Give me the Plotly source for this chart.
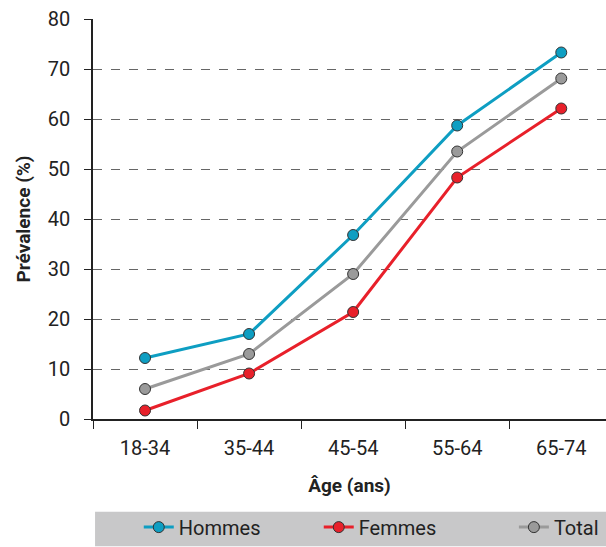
import plotly.graph_objects as go

ages = ["18-34", "35-44", "45-54", "55-64", "65-74"]
hommes = [12.2, 17.0, 36.8, 58.7, 73.3]
femmes = [1.7, 9.1, 21.4, 48.3, 62.1]
total = [6.0, 13.0, 29.0, 53.5, 68.1]

series = [
    ("Hommes", hommes, "#0e9ec2", "legend", 0.229),
    ("Femmes", femmes, "#e8202a", "legend2", 0.526),
    ("Total", total, "#9a9a9a", "legend3", 0.848),
]

font = "Roboto, Arial, sans-serif"

fig = go.Figure()
for name, vals, col, leg, _ in series:
    fig.add_trace(go.Scatter(
        x=ages, y=vals, name=name, mode="lines+markers", legend=leg,
        line=dict(color=col, width=3),
        marker=dict(size=11, color=col, line=dict(color="#333333", width=1)),
    ))

# grey band behind the legend
fig.add_shape(type="rect", xref="paper", yref="paper",
              x0=0.004, x1=1.0, y0=-0.318, y1=-0.232,
              fillcolor="#c8c8c9", line=dict(width=0), layer="below")

# one legend per trace so each entry can sit where the reference puts it
legends = {}
for _, _, _, leg, lx in series:
    legends[leg] = dict(orientation="h", x=lx, xanchor="left", xref="container",
                        y=0.072, yanchor="top", yref="container",
                        bgcolor="rgba(0,0,0,0)", font=dict(size=20, family=font))

fig.update_layout(
    width=606, height=547,
    margin=dict(l=93, r=0, t=19, b=128, autoexpand=False),
    plot_bgcolor="white", paper_bgcolor="white",
    font=dict(family=font, size=20, color="#222222"),
    showlegend=True,
    **legends,
    xaxis=dict(
        type="category", range=[-0.5, 4.43], automargin=False,
        showline=True, linecolor="#222222", linewidth=1.5,
        ticks="outside", ticklen=8, tickcolor="#222222",
        tickson="boundaries", showgrid=False,
        tickfont=dict(size=20), ticklabelstandoff=10,
        title=dict(text="<b>Âge (ans)</b>", font=dict(size=19), standoff=20),
    ),
    yaxis=dict(
        range=[0, 80], dtick=10, automargin=False,
        showline=True, linecolor="#222222", linewidth=1.5,
        ticks="outside", ticklen=7, tickcolor="#222222",
        showgrid=True, gridcolor="#666666", griddash="dash", gridwidth=1,
        zeroline=False, ticklabelstandoff=10,
        tickfont=dict(size=20),
        title=dict(text="<b>Prévalence (%)</b>", font=dict(size=19), standoff=12),
    ),
)

# the page body has a default 8px margin; drop it so the figure sits at 0,0
fig.write_html("out.html", config={"displayModeBar": False},
               post_script="document.body.style.margin='0';")
